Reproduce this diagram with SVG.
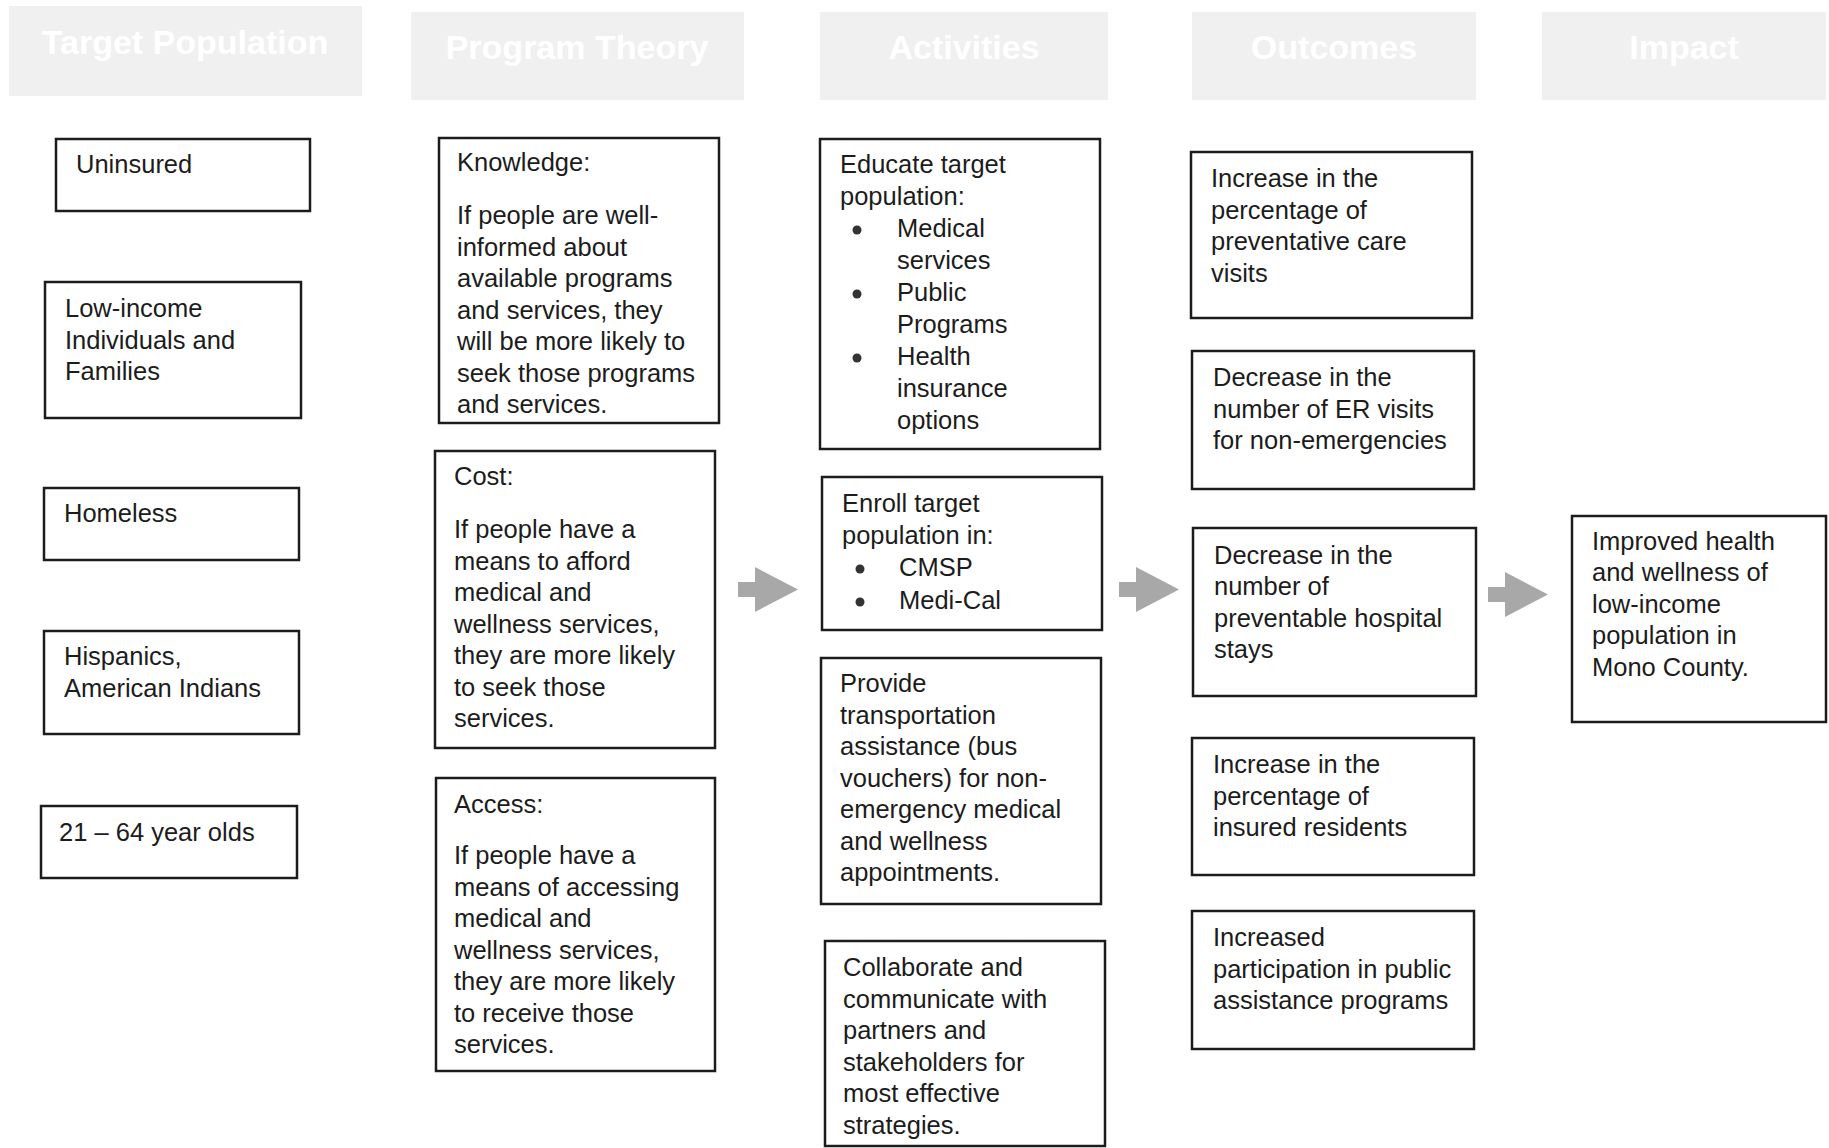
<svg xmlns="http://www.w3.org/2000/svg" width="1829" height="1148" viewBox="0 0 1829 1148">
<style>
.hdr{fill:#f0f0f0}
.ht{font-family:"Liberation Sans",Arial,sans-serif;font-size:34px;font-weight:bold;fill:#ffffff;text-anchor:middle}
.box{fill:#ffffff;stroke:#1c1c1c;stroke-width:2.5}
.t{font-family:"Liberation Sans",Arial,sans-serif;font-size:25.5px;fill:#1c1c1c}
.arr{fill:#a8a8a8}
.dot{fill:#333333}
</style>
<defs>
<path id="arrowShape" d="M0,15 L17,15 L17,0 L60,22.5 L17,45 L17,30 L0,30 Z"/>
</defs>
<rect width="1829" height="1148" fill="#ffffff"/>

<g id="headers">
<g id="h-target"><rect class="hdr" x="9" y="6" width="353" height="90"/><text class="ht" x="185" y="54">Target Population</text></g>
<g id="h-theory"><rect class="hdr" x="411" y="12" width="333" height="88"/><text class="ht" x="577" y="59">Program Theory</text></g>
<g id="h-activities"><rect class="hdr" x="820" y="12" width="288" height="88"/><text class="ht" x="964" y="59">Activities</text></g>
<g id="h-outcomes"><rect class="hdr" x="1192" y="12" width="284" height="88"/><text class="ht" x="1334" y="59">Outcomes</text></g>
<g id="h-impact"><rect class="hdr" x="1542" y="12" width="284" height="88"/><text class="ht" x="1684" y="59">Impact</text></g>
</g>

<g id="connectors">
<use href="#arrowShape" class="arr" x="738" y="567"/>
<use href="#arrowShape" class="arr" x="1119" y="567"/>
<use href="#arrowShape" class="arr" x="1488" y="572"/>
</g>

<g id="uninsured"><rect class="box" x="56" y="139" width="254" height="72"/>
<text class="t" x="76" y="173">Uninsured</text></g>

<g id="low-income"><rect class="box" x="45" y="282" width="256" height="136"/>
<text class="t"><tspan x="65" y="317">Low-income</tspan><tspan x="65" y="348.5">Individuals and</tspan><tspan x="65" y="380">Families</tspan></text></g>

<g id="homeless"><rect class="box" x="44" y="488" width="255" height="72"/>
<text class="t" x="64" y="522">Homeless</text></g>

<g id="hispanics"><rect class="box" x="44" y="631" width="255" height="103"/>
<text class="t"><tspan x="64" y="665">Hispanics,</tspan><tspan x="64" y="696.5">American Indians</tspan></text></g>

<g id="age"><rect class="box" x="41" y="806" width="256" height="72"/>
<text class="t" x="59" y="841">21 – 64 year olds</text></g>

<g id="knowledge"><rect class="box" x="439" y="138" width="280" height="285"/>
<text class="t"><tspan x="457" y="171">Knowledge:</tspan><tspan x="457" y="224">If people are well-</tspan><tspan x="457" y="255.5">informed about</tspan><tspan x="457" y="287">available programs</tspan><tspan x="457" y="318.5">and services, they</tspan><tspan x="457" y="350">will be more likely to</tspan><tspan x="457" y="381.5">seek those programs</tspan><tspan x="457" y="413">and services.</tspan></text></g>

<g id="cost"><rect class="box" x="435" y="451" width="280" height="297"/>
<text class="t"><tspan x="454" y="485">Cost:</tspan><tspan x="454" y="538">If people have a</tspan><tspan x="454" y="569.5">means to afford</tspan><tspan x="454" y="601">medical and</tspan><tspan x="454" y="632.5">wellness services,</tspan><tspan x="454" y="664">they are more likely</tspan><tspan x="454" y="695.5">to seek those</tspan><tspan x="454" y="727">services.</tspan></text></g>

<g id="access"><rect class="box" x="436" y="778" width="279" height="293"/>
<text class="t"><tspan x="454" y="813">Access:</tspan><tspan x="454" y="864">If people have a</tspan><tspan x="454" y="895.5">means of accessing</tspan><tspan x="454" y="927">medical and</tspan><tspan x="454" y="958.5">wellness services,</tspan><tspan x="454" y="990">they are more likely</tspan><tspan x="454" y="1021.5">to receive those</tspan><tspan x="454" y="1053">services.</tspan></text></g>

<g id="educate"><rect class="box" x="820" y="139" width="280" height="310"/>
<text class="t"><tspan x="840" y="173">Educate target</tspan><tspan x="840" y="205">population:</tspan><tspan x="897" y="237">Medical</tspan><tspan x="897" y="269">services</tspan><tspan x="897" y="301">Public</tspan><tspan x="897" y="333">Programs</tspan><tspan x="897" y="365">Health</tspan><tspan x="897" y="397">insurance</tspan><tspan x="897" y="429">options</tspan></text>
<circle class="dot" cx="857" cy="230" r="4.5"/><circle class="dot" cx="857" cy="294" r="4.5"/><circle class="dot" cx="857" cy="358" r="4.5"/></g>

<g id="enroll"><rect class="box" x="822" y="477" width="280" height="153"/>
<text class="t"><tspan x="842" y="512">Enroll target</tspan><tspan x="842" y="543.5">population in:</tspan><tspan x="899" y="576">CMSP</tspan><tspan x="899" y="609">Medi-Cal</tspan></text>
<circle class="dot" cx="860" cy="569" r="4.5"/><circle class="dot" cx="860" cy="602" r="4.5"/></g>

<g id="transport"><rect class="box" x="821" y="658" width="280" height="246"/>
<text class="t"><tspan x="840" y="692">Provide</tspan><tspan x="840" y="723.5">transportation</tspan><tspan x="840" y="755">assistance (bus</tspan><tspan x="840" y="786.5">vouchers) for non-</tspan><tspan x="840" y="818">emergency medical</tspan><tspan x="840" y="849.5">and wellness</tspan><tspan x="840" y="881">appointments.</tspan></text></g>

<g id="collaborate"><rect class="box" x="825" y="941" width="280" height="205"/>
<text class="t"><tspan x="843" y="976">Collaborate and</tspan><tspan x="843" y="1007.5">communicate with</tspan><tspan x="843" y="1039">partners and</tspan><tspan x="843" y="1070.5">stakeholders for</tspan><tspan x="843" y="1102">most effective</tspan><tspan x="843" y="1133.5">strategies.</tspan></text></g>

<g id="out-preventative"><rect class="box" x="1191" y="152" width="281" height="166"/>
<text class="t"><tspan x="1211" y="187">Increase in the</tspan><tspan x="1211" y="218.5">percentage of</tspan><tspan x="1211" y="250">preventative care</tspan><tspan x="1211" y="281.5">visits</tspan></text></g>

<g id="out-er"><rect class="box" x="1192" y="351" width="282" height="138"/>
<text class="t"><tspan x="1213" y="386">Decrease in the</tspan><tspan x="1213" y="417.5">number of ER visits</tspan><tspan x="1213" y="449">for non-emergencies</tspan></text></g>

<g id="out-hospital"><rect class="box" x="1193" y="528" width="283" height="168"/>
<text class="t"><tspan x="1214" y="563.5">Decrease in the</tspan><tspan x="1214" y="595">number of</tspan><tspan x="1214" y="626.5">preventable hospital</tspan><tspan x="1214" y="658">stays</tspan></text></g>

<g id="out-insured"><rect class="box" x="1192" y="738" width="282" height="137"/>
<text class="t"><tspan x="1213" y="773">Increase in the</tspan><tspan x="1213" y="804.5">percentage of</tspan><tspan x="1213" y="836">insured residents</tspan></text></g>

<g id="out-participation"><rect class="box" x="1192" y="911" width="282" height="138"/>
<text class="t"><tspan x="1213" y="946">Increased</tspan><tspan x="1213" y="977.5">participation in public</tspan><tspan x="1213" y="1009">assistance programs</tspan></text></g>

<g id="impact"><rect class="box" x="1572" y="516" width="254" height="206"/>
<text class="t"><tspan x="1592" y="549.5">Improved health</tspan><tspan x="1592" y="581">and wellness of</tspan><tspan x="1592" y="612.5">low-income</tspan><tspan x="1592" y="644">population in</tspan><tspan x="1592" y="675.5">Mono County.</tspan></text></g>
</svg>
